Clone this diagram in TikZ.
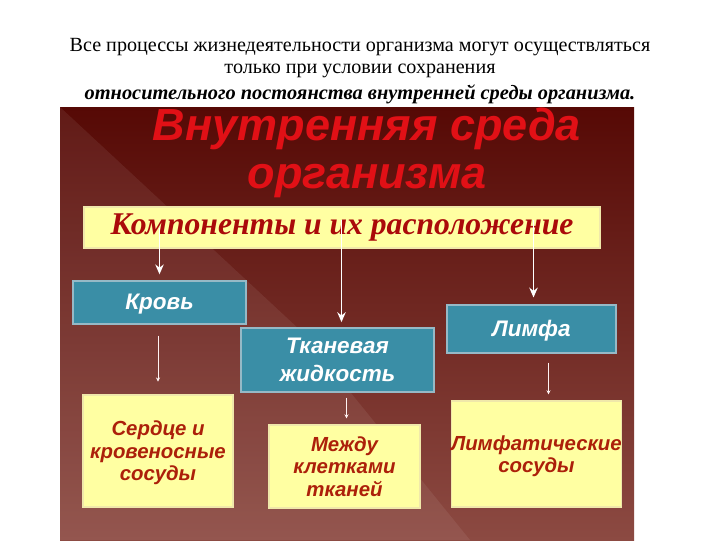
\documentclass[tikz,border=0pt]{standalone}
\usepackage{fontspec}
\setmainfont{Liberation Serif}
\newfontfamily\headfont{Liberation Sans}
\usetikzlibrary{positioning,calc,arrows.meta}

\definecolor{panelTop}{RGB}{86,9,5}
\definecolor{panelMid}{RGB}{112,24,14}
\definecolor{panelBot}{RGB}{140,74,66}
\definecolor{boxBlue}{RGB}{58,142,166}
\definecolor{boxBlueEdge}{RGB}{150,185,198}
\definecolor{boxYellow}{RGB}{255,255,162}
\definecolor{boxYellowEdge}{RGB}{240,232,170}
\definecolor{titleRed}{RGB}{225,16,22}
\definecolor{bannerRed}{RGB}{170,10,10}
\definecolor{placeRed}{RGB}{172,32,10}

\tikzset{
  bannerbox/.style={draw=boxYellowEdge, line width=1pt, fill=boxYellow, text=bannerRed,
    font=\bfseries\itshape\fontsize{22.5}{26}\selectfont, inner sep=0pt},
  compbox/.style={draw=boxBlueEdge, line width=1pt, fill=boxBlue, text=white, align=center,
    font=\headfont\bfseries\itshape\fontsize{16}{19.5}\selectfont, inner sep=0pt},
  oneline/.style={text height=10pt, text depth=0pt},
  placebox/.style={draw=boxYellowEdge, line width=0.8pt, fill=boxYellow, text=placeRed, align=center,
    font=\headfont\bfseries\itshape\fontsize{14.5}{16}\selectfont, inner sep=0pt},
  mainarrow/.style={white, line width=1.4pt, -{Stealth[length=7pt,width=6pt]}},
  subarrow/.style={white!80!pink, line width=0.5pt, -{Stealth[length=3pt,width=3pt]}}
}

\begin{document}
\begin{tikzpicture}[x=0.025cm, y=-0.025cm]
    \useasboundingbox (0,0) rectangle (720,540);
    \fill[white] (0,0) rectangle (720,540);

    % Heading above the slide
    \node[font=\fontsize{14.3}{17}\selectfont] (headA) at (360,47)
        {Все процессы жизнедеятельности организма могут осуществляться};
    \node[font=\fontsize{14.3}{17}\selectfont] (headB) at (360,71)
        {только при условии сохранения};
    \node[font=\bfseries\itshape\fontsize{14.5}{17}\selectfont] (headC) at (360,94)
        {относительного постоянства внутренней среды организма.};

    % Dark red slide
    \shade[top color=panelTop, middle color=panelMid, bottom color=panelBot] (60,107) rectangle (634,540);
    \fill[white, opacity=0.07] (60,107) -- (300,330) -- (470,540) -- (60,540) -- cycle;

    % Title
    \node[font=\headfont\bfseries\itshape\fontsize{32}{34}\selectfont, text=titleRed, align=center]
        (title) at (367,153) {Внутренняя среда\\организма};

    % Banner
    \node[bannerbox, minimum width=12.9cm, minimum height=1.025cm] (banner) at (342,227.5)
        {Компоненты и их расположение};

    % Components (blue)
    \node[compbox, oneline, minimum width=4.325cm, minimum height=1.075cm] (krov) at (159.5,302.5) {Кровь};
    \node[compbox, minimum width=4.825cm, minimum height=1.6cm] (tkan) at (337.5,360) {Тканевая\\жидкость};
    \node[compbox, oneline, minimum width=4.225cm, minimum height=1.2cm] (limfa) at (531.5,329) {Лимфа};

    % Locations (yellow)
    \node[placebox, minimum width=3.75cm, minimum height=2.8cm, text depth=0pt] (sosudy) at (158,451)
        {Сердце и\\кровеносные\\сосуды};
    \node[placebox, minimum width=3.775cm, minimum height=2.075cm] (mezhdu) at (344.5,466.5)
        {Между\\клетками\\тканей};
    \node[placebox, minimum width=4.225cm, minimum height=2.65cm, text depth=0pt] (limfsos) at (536.5,454)
        {Лимфатические\\сосуды};

    % Arrows from the banner
    \draw[mainarrow, shorten >=0.15cm] (krov.north |- banner.center) -- (krov.north);
    \draw[mainarrow, shorten >=0.13cm] ($(tkan.north |- banner.center)+(4,-8)$) -- ($(tkan.north)+(4,0)$);
    \draw[mainarrow, shorten >=0.17cm] ($(limfa.north |- banner.center)+(2,-8)$) -- ($(limfa.north)+(2,0)$);

    % Thin links to the locations
    \draw[subarrow, shorten <=0.27cm, shorten >=0.32cm] (sosudy.north |- krov.south) -- (sosudy.north);
    \draw[subarrow, shorten <=0.12cm, shorten >=0.15cm] ($(mezhdu.north |- tkan.south)+(2,0)$) -- ($(mezhdu.north)+(2,0)$);
    \draw[subarrow, shorten <=0.22cm, shorten >=0.15cm] ($(limfsos.north |- limfa.south)+(12,0)$) -- ($(limfsos.north)+(12,0)$);
\end{tikzpicture}
\end{document}
